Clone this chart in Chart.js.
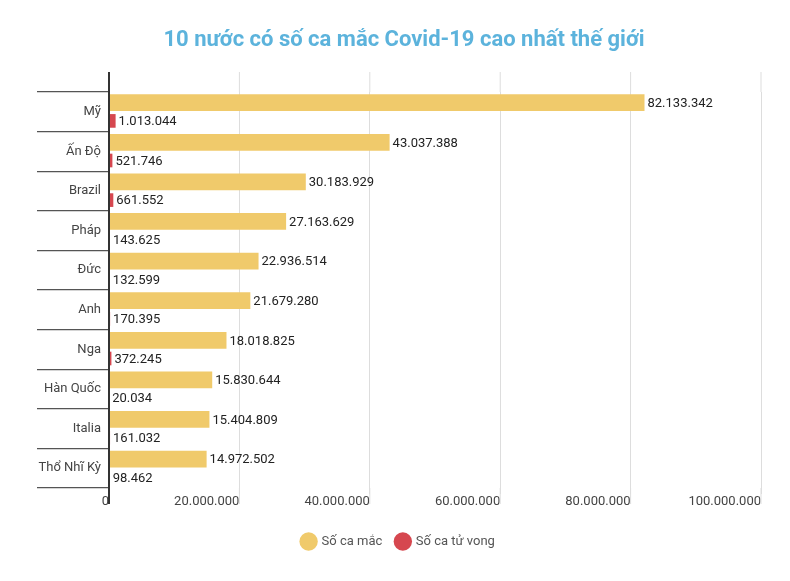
<!DOCTYPE html>
<html><head><meta charset="utf-8">
<script src="https://cdn.jsdelivr.net/npm/chart.js@4/dist/chart.umd.min.js"></script>
<style>body{margin:0;background:#fff}</style>
</head><body>
<canvas id="chart_covid" width="790" height="581"></canvas>
<script>
var countries = ['Mỹ', 'Ấn Độ', 'Brazil', 'Pháp', 'Đức', 'Anh', 'Nga', 'Hàn Quốc', 'Italia', 'Thổ Nhĩ Kỳ'];
var cases = [82133342, 43037388, 30183929, 27163629, 22936514, 21679280, 18018825, 15830644, 15404809, 14972502];
var deaths = [1013044, 521746, 661552, 143625, 132599, 170395, 372245, 20034, 161032, 98462];
var chartTitle = '10 nước có số ca mắc Covid-19 cao nhất thế giới';

function fmt(v) {
    return String(v).replace(/\B(?=(\d{3})+(?!\d))/g, '.');
}

var chart_covid = new Chart(document.getElementById('chart_covid'), {
    type: 'bar',
    data: {
        labels: countries,
        datasets: [
            { label: 'Số ca mắc', data: cases, backgroundColor: '#f0ca6b', barPercentage: 0.92, categoryPercentage: 0.92 },
            { label: 'Số ca tử vong', data: deaths, backgroundColor: '#d6474f', barPercentage: 0.75, categoryPercentage: 0.92 }
        ]
    },
    options: {
        indexAxis: 'y',
        animation: false,
        responsive: false,
        layout: { padding: { left: 36, right: 29, top: 92, bottom: 23 } },
        plugins: {
            title: { display: false },
            legend: {
                position: 'bottom',
                labels: {
                    usePointStyle: true,
                    pointStyle: 'circle',
                    boxWidth: 14, boxHeight: 14,
                    padding: 14,
                    color: '#555',
                    font: { family: 'Roboto', size: 13 }
                }
            },
            tooltip: { enabled: false }
        },
        scales: {
            x: {
                min: 0, max: 100000000,
                afterFit: function(scale) { scale.height = 33; },
                ticks: {
                    stepSize: 20000000,
                    align: 'end',
                    padding: 0,
                    color: '#444',
                    font: { family: 'Roboto', size: 13 },
                    callback: function(v) { return fmt(v); }
                },
                grid: { color: '#dddddd', tickLength: 6 },
                border: { display: false }
            },
            y: {
                afterFit: function(scale) { scale.width = 73; },
                ticks: {
                    padding: -64,
                    color: '#444',
                    font: { family: 'Roboto', size: 13 }
                },
                grid: { offset: true, drawOnChartArea: false, tickLength: 72, color: '#555', lineWidth: 1.3 },
                border: { display: true, color: '#333', width: 2 }
            }
        }
    },
    plugins: [{
        id: 'extras',
        afterDatasetsDraw: function(chart) {
            var ctx = chart.ctx, a = chart.chartArea, xs = chart.scales.x;
            ctx.save();
            // title
            ctx.fillStyle = '#5cb3dc';
            ctx.font = 'bold 22px Roboto';
            ctx.textAlign = 'center';
            ctx.textBaseline = 'middle';
            ctx.fillText(chartTitle, chart.width / 2 + 9, 40);
            // extend gridlines and axis above and below the plot
            ctx.strokeStyle = '#dddddd';
            ctx.lineWidth = 1;
            xs.ticks.forEach(function(t) {
                if (t.value === 0) return;
                var px = xs.getPixelForValue(t.value);
                ctx.beginPath(); ctx.moveTo(px, a.top - 20); ctx.lineTo(px, a.top); ctx.stroke();
                ctx.beginPath(); ctx.moveTo(px, a.bottom); ctx.lineTo(px, a.bottom + 16); ctx.stroke();
            });
            ctx.strokeStyle = '#333';
            ctx.lineWidth = 2;
            ctx.beginPath(); ctx.moveTo(a.left, a.top - 20); ctx.lineTo(a.left, a.bottom + 16); ctx.stroke();
            // value labels
            ctx.fillStyle = '#222';
            ctx.font = '13px Roboto';
            ctx.textAlign = 'left';
            chart.data.datasets.forEach(function(ds, i) {
                chart.getDatasetMeta(i).data.forEach(function(bar, j) {
                    ctx.fillText(fmt(ds.data[j]), bar.x + 3, bar.y + 1);
                });
            });
            ctx.restore();
        }
    }]
});
</script>
</body></html>
